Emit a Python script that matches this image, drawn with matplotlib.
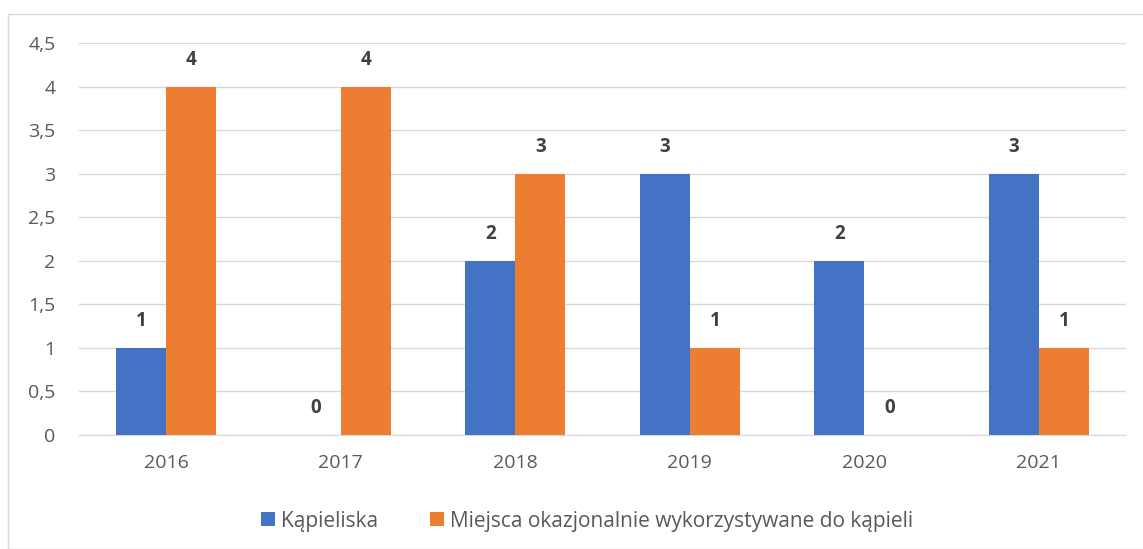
import matplotlib
matplotlib.use("Agg")
import matplotlib.pyplot as plt
from matplotlib.patches import Rectangle
import numpy as np

years = ["2016", "2017", "2018", "2019", "2020", "2021"]
kapieliska = [1, 0, 2, 3, 2, 3]
miejsca = [4, 4, 3, 1, 0, 1]
series_names = ["Kąpieliska", "Miejsca okazjonalnie wykorzystywane do kąpieli"]
yticks = [0, 0.5, 1, 1.5, 2, 2.5, 3, 3.5, 4, 4.5]
ytick_labels = ["0", "0,5", "1", "1,5", "2", "2,5", "3", "3,5", "4", "4,5"]

plt.rcParams['font.family'] = ['Open Sans', 'DejaVu Sans']

fig = plt.figure(figsize=(11.43, 5.49), dpi=100)
fig.patches.append(Rectangle((8/1143, 0), 1.2, 1 - 14/549, transform=fig.transFigure,
                             fill=False, edgecolor="#D9D9D9", linewidth=1.0))
ax = fig.add_axes([79/1143, 1 - 435/549, (1126 - 79)/1143, (435 - 43)/549])

x = np.arange(len(years))
w = 0.287
b1 = ax.bar(x - w/2, kapieliska, w, color="#4472C4", label=series_names[0], zorder=3)
b2 = ax.bar(x + w/2, miejsca, w, color="#ED7D31", label=series_names[1], zorder=3)

for bars in (b1, b2):
    for rect in bars:
        h = rect.get_height()
        ax.annotate(f"{h:g}", (rect.get_x() + rect.get_width()/2, h),
                    xytext=(0, 27), textcoords="offset pixels",
                    ha="center", va="center", fontsize=13.5, fontweight="bold",
                    color="#404040")

ax.set_xlim(-0.5, len(years) - 0.5)
ax.set_ylim(0, 4.5)
ax.set_yticks(yticks)
ax.set_yticklabels(ytick_labels)
ax.set_xticks(x)
ax.set_xticklabels(years)
ax.grid(axis="y", color="#D9D9D9", linewidth=1.0, zorder=0)
for s in ["top", "right", "left"]:
    ax.spines[s].set_visible(False)
ax.spines["bottom"].set_color("#D9D9D9")
ax.tick_params(axis="both", length=0, labelsize=14, colors="#595959")
ax.tick_params(axis="y", pad=17)
ax.tick_params(axis="x", pad=14)

leg = fig.legend(handles=[b1, b2], loc="center", bbox_to_anchor=(587/1143, 1 - 521/549),
                 ncol=2, frameon=False, fontsize=15, handlelength=0.67, handleheight=0.67,
                 handletextpad=0.29, columnspacing=2.5)
for t in leg.get_texts():
    t.set_color("#595959")

fig.savefig("out.png", dpi=100)
